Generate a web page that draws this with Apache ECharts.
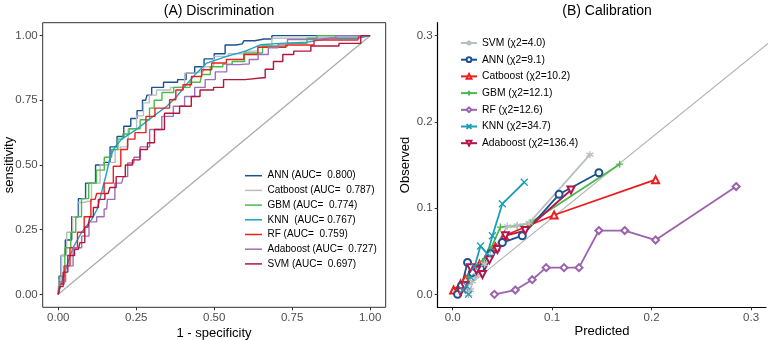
<!DOCTYPE html>
<html>
<head>
<meta charset="utf-8">
<script src="https://cdn.jsdelivr.net/npm/echarts@6/dist/echarts.min.js"></script>
<style>
  html, body { margin: 0; padding: 0; background: #fff; }
  #chart { width: 778px; height: 340px; }
</style>
</head>
<body>
<div id="chart"></div>
<script>
// ROC curves: [1 - specificity, sensitivity]
const rocANN = [[0,0],[0.005,0.07],[0.013,0.15],[0.032,0.21],[0.054,0.30],[0.075,0.37],[0.10,0.43],[0.139,0.50],[0.155,0.51],[0.177,0.57],[0.20,0.61],[0.22,0.65],[0.245,0.68],[0.26,0.71],[0.28,0.75],[0.289,0.77],[0.31,0.80],[0.365,0.82],[0.40,0.83],[0.42,0.855],[0.455,0.88],[0.48,0.91],[0.52,0.93],[0.55,0.964],[0.59,0.968],[0.60,0.98],[0.66,0.987],[0.71,1.0],[1,1]]
const rocCat = [[0,0],[0.005,0.06],[0.016,0.15],[0.038,0.24],[0.054,0.30],[0.07,0.355],[0.095,0.36],[0.118,0.43],[0.15,0.50],[0.175,0.51],[0.19,0.56],[0.208,0.57],[0.24,0.64],[0.262,0.69],[0.284,0.74],[0.30,0.77],[0.33,0.79],[0.39,0.80],[0.42,0.855],[0.455,0.86],[0.477,0.88],[0.52,0.92],[0.57,0.93],[0.62,0.94],[0.66,0.96],[0.71,0.99],[0.9,0.995],[1,1]]
const rocGBM = [[0,0],[0.01,0.07],[0.032,0.18],[0.048,0.24],[0.064,0.30],[0.085,0.37],[0.11,0.43],[0.135,0.48],[0.16,0.53],[0.182,0.56],[0.20,0.60],[0.214,0.62],[0.24,0.64],[0.285,0.675],[0.30,0.72],[0.315,0.75],[0.35,0.78],[0.39,0.80],[0.455,0.82],[0.465,0.85],[0.51,0.88],[0.545,0.89],[0.57,0.90],[0.625,0.933],[0.685,0.96],[0.785,0.97],[0.81,0.99],[0.85,1.0],[1,1]]
const rocKNN = [[0,0],[0.016,0.07],[0.047,0.18],[0.075,0.24],[0.107,0.29],[0.125,0.33],[0.14,0.40],[0.155,0.47],[0.166,0.53],[0.182,0.57],[0.203,0.60],[0.25,0.637],[0.304,0.688],[0.348,0.727],[0.38,0.765],[0.41,0.81],[0.444,0.856],[0.476,0.894],[0.54,0.92],[0.6,0.94],[0.65,0.965],[0.71,0.97],[0.8,0.975],[0.87,0.99],[0.96,0.99],[1,1]]
const rocRF = [[0,0],[0.01,0.04],[0.027,0.11],[0.048,0.18],[0.075,0.24],[0.091,0.30],[0.118,0.367],[0.128,0.39],[0.166,0.43],[0.187,0.495],[0.214,0.56],[0.23,0.60],[0.262,0.625],[0.30,0.688],[0.32,0.72],[0.35,0.72],[0.364,0.752],[0.39,0.79],[0.41,0.81],[0.444,0.842],[0.476,0.868],[0.508,0.894],[0.57,0.908],[0.62,0.927],[0.66,0.955],[0.80,0.964],[0.84,0.983],[0.96,0.983],[0.97,1],[1,1]]
const rocAda = [[0,0],[0.012,0.05],[0.035,0.11],[0.06,0.18],[0.09,0.225],[0.107,0.28],[0.139,0.30],[0.155,0.33],[0.16,0.367],[0.203,0.43],[0.215,0.455],[0.23,0.508],[0.255,0.53],[0.27,0.57],[0.316,0.637],[0.348,0.688],[0.39,0.727],[0.42,0.765],[0.455,0.80],[0.487,0.83],[0.52,0.86],[0.56,0.888],[0.6,0.89],[0.625,0.908],[0.657,0.927],[0.69,0.953],[0.72,0.967],[0.75,0.985],[0.88,0.99],[0.9,1],[1,1]]
const rocSVM = [[0,0],[0.01,0.03],[0.021,0.086],[0.04,0.15],[0.064,0.174],[0.075,0.20],[0.095,0.26],[0.107,0.30],[0.118,0.336],[0.139,0.367],[0.16,0.39],[0.171,0.413],[0.2,0.455],[0.23,0.50],[0.246,0.52],[0.278,0.56],[0.294,0.586],[0.323,0.637],[0.358,0.70],[0.42,0.727],[0.433,0.765],[0.476,0.79],[0.52,0.80],[0.54,0.83],[0.657,0.837],[0.67,0.87],[0.71,0.90],[0.73,0.927],[0.78,0.94],[0.84,0.96],[0.96,0.97],[0.98,1],[1,1]]
const rocRef = [[0,0],[1,1]]

// calibration: [predicted, observed]
const calSVM = [[0.016,0.000],[0.018,0.005],[0.020,0.015],[0.025,0.022],[0.032,0.035],[0.038,0.045],[0.055,0.079],[0.065,0.080],[0.077,0.083],[0.138,0.162]]
const calANN = [[0.005,0.000],[0.009,0.010],[0.015,0.037],[0.020,0.025],[0.028,0.030],[0.038,0.047],[0.050,0.060],[0.070,0.068],[0.107,0.116],[0.147,0.141]]
const calCat = [[0.001,0.005],[0.008,0.012],[0.013,0.018],[0.019,0.025],[0.027,0.035],[0.036,0.047],[0.043,0.055],[0.052,0.068],[0.102,0.092],[0.204,0.133]]
const calGBM = [[0.004,0.003],[0.010,0.012],[0.016,0.020],[0.022,0.028],[0.030,0.038],[0.038,0.052],[0.048,0.078],[0.065,0.079],[0.078,0.083],[0.168,0.151]]
const calRF = [[0.042,0.000],[0.063,0.005],[0.080,0.017],[0.094,0.031],[0.112,0.031],[0.127,0.031],[0.147,0.074],[0.173,0.074],[0.204,0.063],[0.285,0.125]]
const calKNN = [[0.010,0.005],[0.016,0.000],[0.014,0.010],[0.018,0.020],[0.022,0.032],[0.028,0.056],[0.035,0.047],[0.040,0.068],[0.050,0.105],[0.072,0.130]]
const calAda = [[0.008,0.003],[0.012,0.010],[0.018,0.031],[0.024,0.028],[0.030,0.023],[0.037,0.040],[0.045,0.052],[0.053,0.068],[0.073,0.074],[0.119,0.121]]
const calRef = [[0.005,0],[0.345,0.317]]

const rocTicks = [0, 0.25, 0.5, 0.75, 1]
const calTicks = [0, 0.1, 0.2, 0.3]

const rocNames = ['ANN (AUC=  0.800)', 'Catboost (AUC=  0.787)', 'GBM (AUC=  0.774)', 'KNN  (AUC= 0.767)', 'RF (AUC=  0.759)', 'Adaboost (AUC=  0.727)', 'SVM (AUC=  0.697)']
const calNames = ['SVM (\u03c72=4.0)', 'ANN (\u03c72=9.1)', 'Catboost (\u03c72=10.2)', 'GBM (\u03c72=12.1)', 'RF (\u03c72=12.6)', 'KNN (\u03c72=34.7)', 'Adaboost (\u03c72=136.4)']

const FONT = '"Liberation Sans", Arial, sans-serif'
const chart = echarts.init(document.getElementById('chart'))

function rocLine(name, data, color, step) {
  return {
    name: name,
    type: 'line',
    xAxisIndex: 0,
    yAxisIndex: 0,
    data: data,
    step: step,
    symbol: 'none',
    lineStyle: { color: color, width: 1.4 },
    itemStyle: { color: color },
    z: 3
  }
}

function calLine(name, data, color, symbol, rotate) {
  const stroked = symbol.indexOf('path://') === 0
  return {
    name: name,
    type: 'line',
    xAxisIndex: 1,
    yAxisIndex: 1,
    data: data,
    symbol: symbol,
    symbolSize: 7,
    symbolRotate: rotate || 0,
    lineStyle: { color: color, width: 1.8 },
    itemStyle: stroked
      ? { color: color, borderColor: color, borderWidth: 1.3 }
      : { color: color, borderWidth: 1.1 },
    z: 3
  }
}

const asterisk = 'path://M5,0L5,10M0.67,2.5L9.33,7.5M0.67,7.5L9.33,2.5'
const plus = 'path://M0,5L10,5M5,0L5,10'
const cross = 'path://M1,1L9,9M1,9L9,1'

// legend for panel A: drawn as plain graphic items (sample line + text)
const rocColors = ['#1b5291', '#b9bdc0', '#4db84b', '#1ba3c6', '#f21d1d', '#9e6fb8', '#b5153c']
const rocLegend = []
rocNames.forEach(function(n, i) {
  const y = 175.7 + i * 14.7
  rocLegend.push({ type: 'line', shape: { x1: 245, y1: y, x2: 262, y2: y },
    style: { stroke: rocColors[i], lineWidth: 1.5 } })
  rocLegend.push({ type: 'text', x: 267.5, y: y,
    style: { text: n, font: '10px ' + FONT, fill: '#000', verticalAlign: 'middle' } })
})

const option = {
  animation: false,
  textStyle: { fontFamily: FONT },
  title: [
    { text: '(A) Discrimination', left: 214, top: -1, textAlign: 'center',
      textStyle: { fontSize: 14, fontWeight: 'normal', color: '#000', fontFamily: FONT } },
    { text: '(B) Calibration', left: 602, top: -1, textAlign: 'center',
      textStyle: { fontSize: 14, fontWeight: 'normal', color: '#000', fontFamily: FONT } }
  ],
  legend: {
    id: 'calLegend',
    data: calNames,
    orient: 'vertical',
    left: 455,
    top: 33,
    itemWidth: 16,
    itemHeight: 6,
    itemGap: 6.7,
    textStyle: { fontSize: 10.3, lineHeight: 10, color: '#000', fontFamily: FONT },
    selectedMode: false
  },
  grid: [
    { left: 42.7, top: 22.7, width: 343, height: 284.6, show: true, borderColor: '#333', borderWidth: 1, backgroundColor: 'transparent' },
    { left: 437.7, top: 22.7, width: 328.3, height: 284.6 }
  ],
  xAxis: [
    {
      gridIndex: 0, type: 'value', min: -0.05, max: 1.05,
      axisLine: { show: false, onZero: false },
      splitLine: { show: false },
      axisTick: { length: 3, lineStyle: { color: '#333' }, customValues: rocTicks },
      axisLabel: { customValues: rocTicks, formatter: v => v.toFixed(2), fontSize: 11.5, color: '#4d4d4d', margin: 5, fontFamily: FONT }
    },
    {
      gridIndex: 1, type: 'value', min: -0.015, max: 0.315,
      axisLine: { show: true, onZero: false, lineStyle: { color: '#000', width: 1.2 } },
      splitLine: { show: false },
      axisTick: { length: 3, lineStyle: { color: '#333' }, customValues: calTicks },
      axisLabel: { customValues: calTicks, formatter: v => v.toFixed(1), fontSize: 11.5, color: '#4d4d4d', margin: 5, fontFamily: FONT }
    }
  ],
  yAxis: [
    {
      gridIndex: 0, type: 'value', min: -0.05, max: 1.05,
      axisLine: { show: false, onZero: false },
      splitLine: { show: false },
      axisTick: { length: 3, lineStyle: { color: '#333' }, customValues: rocTicks },
      axisLabel: { customValues: rocTicks, formatter: v => v.toFixed(2), fontSize: 11.5, color: '#4d4d4d', margin: 5, fontFamily: FONT }
    },
    {
      gridIndex: 1, type: 'value', min: -0.015, max: 0.315,
      axisLine: { show: true, onZero: false, lineStyle: { color: '#000', width: 1.2 } },
      splitLine: { show: false },
      axisTick: { length: 3, lineStyle: { color: '#333' }, customValues: calTicks },
      axisLabel: { customValues: calTicks, formatter: v => v.toFixed(1), fontSize: 11.5, color: '#4d4d4d', margin: 5, fontFamily: FONT }
    }
  ],
  graphic: [
    { type: 'text', x: 9, y: 165, rotation: Math.PI / 2,
      style: { text: 'sensitivity', font: '13px ' + FONT, fill: '#000', align: 'center', verticalAlign: 'middle' } },
    { type: 'text', x: 214, y: 333, style: { text: '1 - specificity', font: '13px ' + FONT, fill: '#000', align: 'center', verticalAlign: 'middle' } },
    { type: 'text', x: 405, y: 165, rotation: Math.PI / 2,
      style: { text: 'Observed', font: '13px ' + FONT, fill: '#000', align: 'center', verticalAlign: 'middle' } },
    { type: 'text', x: 602, y: 331, style: { text: 'Predicted', font: '13px ' + FONT, fill: '#000', align: 'center', verticalAlign: 'middle' } }
  ].concat(rocLegend),
  series: [
    { type: 'line', xAxisIndex: 0, yAxisIndex: 0, data: rocRef, symbol: 'none', silent: true,
      lineStyle: { color: '#ababab', width: 1.3 }, z: 2 },
    rocLine(rocNames[0], rocANN, rocColors[0], 'middle'),
    rocLine(rocNames[1], rocCat, rocColors[1], 'middle'),
    rocLine(rocNames[2], rocGBM, rocColors[2], 'middle'),
    rocLine(rocNames[3], rocKNN, rocColors[3], false),
    rocLine(rocNames[4], rocRF, rocColors[4], 'middle'),
    rocLine(rocNames[5], rocAda, rocColors[5], 'middle'),
    rocLine(rocNames[6], rocSVM, rocColors[6], 'middle'),

    { type: 'line', xAxisIndex: 1, yAxisIndex: 1, data: calRef, symbol: 'none', silent: true,
      lineStyle: { color: '#b3b3b3', width: 1.2 }, z: 2 },
    calLine(calNames[4], calRF, '#9b62ad', 'emptyDiamond'),
    calLine(calNames[2], calCat, '#ee1c1c', 'emptyTriangle'),
    calLine(calNames[3], calGBM, '#4db84b', plus),
    calLine(calNames[1], calANN, '#1a5190', 'emptyCircle'),
    calLine(calNames[0], calSVM, '#b9bfc2', asterisk),
    calLine(calNames[6], calAda, '#b3164a', 'emptyTriangle', 180),
    calLine(calNames[5], calKNN, '#1a9fb8', cross)
  ]
}

chart.setOption(option)
window.addEventListener('resize', function() {
  chart.resize()
})
</script>
</body>
</html>
